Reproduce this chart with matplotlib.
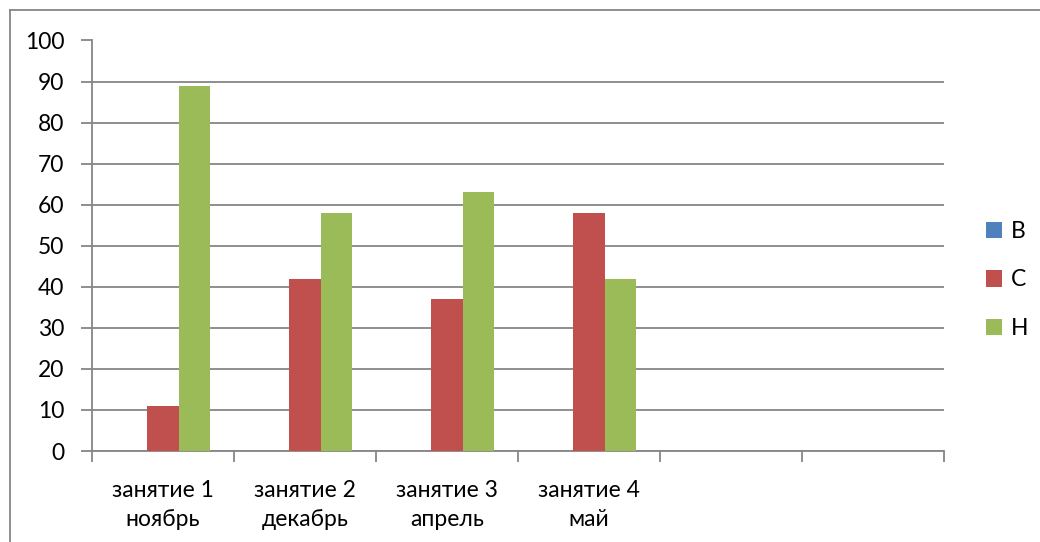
import matplotlib
matplotlib.use("Agg")
import matplotlib.pyplot as plt
from matplotlib.lines import Line2D
import numpy as np

categories = ["занятие 1\nноябрь", "занятие 2\nдекабрь", "занятие 3\nапрель", "занятие 4\nмай", "", ""]
series_names = ["В", "С", "Н"]
values_B = [0, 0, 0, 0, 0, 0]
values_C = [11, 42, 37, 58, 0, 0]
values_H = [89, 58, 63, 42, 0, 0]
colors = ["#4F81BD", "#C0504D", "#9BBB59"]

plt.rcParams['font.family'] = ['Lato', 'DejaVu Sans']

W, H = 1040, 542
fig = plt.figure(figsize=(W / 100, H / 100), dpi=100)
ax = fig.add_axes([92 / W, (H - 451) / H, (944 - 92) / W, (451 - 40.5) / H])

n = len(categories)
x = np.arange(n) + 0.5
bw = 1 / 4.5
data = [values_B, values_C, values_H]
handles = []
for i, (name, vals, c) in enumerate(zip(series_names, data, colors)):
    h = ax.bar(x + (i - 1) * bw, vals, width=bw, color=c, label=name, zorder=3, linewidth=0)
    handles.append(h)

fs = 16.5
ax.set_xlim(0, n)
ax.set_ylim(0, 100)
ax.set_yticks(np.arange(0, 101, 10))
ax.yaxis.grid(True, color="#868686", linewidth=1.3, zorder=0)
ax.set_xticks(np.arange(0, n + 1))
ax.set_xticklabels([])
ax.set_xticks(x, minor=True)
ax.set_xticklabels(categories, minor=True, fontsize=fs, linespacing=1.45)
ax.tick_params(axis="x", which="minor", length=0, pad=21)
ax.tick_params(axis="x", which="major", length=8, width=1.3, color="#868686", direction="out")
ax.tick_params(axis="y", length=8, width=1.3, color="#868686", labelsize=fs, pad=12)
for s in ["top", "right"]:
    ax.spines[s].set_visible(False)
for s in ["left", "bottom"]:
    ax.spines[s].set_color("#868686")
    ax.spines[s].set_linewidth(1.3)

ax.legend(handles=handles, loc="center left", bbox_to_anchor=(986 / W, (H - 280) / H),
          bbox_transform=fig.transFigure, frameon=False, fontsize=fs,
          handlelength=0.7, handleheight=0.7, handletextpad=0.4, labelspacing=1.2,
          borderaxespad=0, borderpad=0)

# outer chart border (top and left visible)
fig.add_artist(Line2D([10 / W, 1.0], [(H - 10) / H, (H - 10) / H], transform=fig.transFigure,
                      color="#868686", linewidth=1.3))
fig.add_artist(Line2D([10 / W, 10 / W], [0, (H - 10) / H], transform=fig.transFigure,
                      color="#868686", linewidth=1.3))

fig.savefig("out.png", dpi=100)
